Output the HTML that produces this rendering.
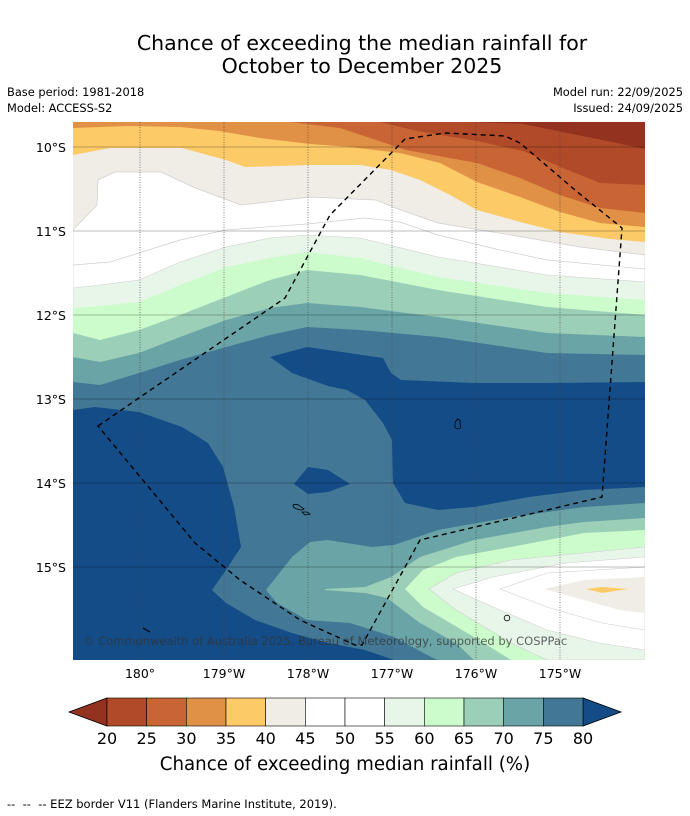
<!DOCTYPE html>
<html><head><meta charset="utf-8"><style>
body{margin:0;background:#fff;}
svg{display:block;font-family:"DejaVu Sans","Liberation Sans",sans-serif;}
</style></head><body>
<svg id="root" width="690" height="816" viewBox="0 0 690 816" xmlns="http://www.w3.org/2000/svg">
<rect width="690" height="816" fill="#fff"/>
<text x="362" y="50" font-size="20.5" text-anchor="middle" fill="#000">Chance of exceeding the median rainfall for</text>
<text x="362" y="73" font-size="20.5" text-anchor="middle" fill="#000">October to December 2025</text>
<text x="7" y="96" font-size="11.4">Base period: 1981-2018</text>
<text x="7" y="112" font-size="11.4">Model: ACCESS-S2</text>
<text x="683" y="96" font-size="11.4" text-anchor="end">Model run: 22/09/2025</text>
<text x="683" y="112" font-size="11.4" text-anchor="end">Issued: 24/09/2025</text>
<defs><clipPath id="mc"><rect x="73" y="122" width="572" height="538"/></clipPath></defs>
<g clip-path="url(#mc)">
<rect x="73" y="100" width="572" height="560" fill="#93321e"/>
<polygon fill="#b14a28" points="73,100 460,100 470,122 523,124 557,131 607,141 645,149 645,660 73,660"/>
<polygon fill="#c96534" points="73,100 375,110 380,122 417,131 477,141 523,151 563,168 600,183 645,185 645,660 73,660"/>
<polygon fill="#e09145" points="73,100 285,110 290,122 340,128 406,150 477,163 520,178 560,195 600,208 645,213 645,660 73,660"/>
<polygon fill="#fdca68" points="73,128 128,126 180,127 219,131 260,138 310,144 350,147 400,153 440,163 477,182 520,197 560,212 600,223 645,227 645,660 73,660"/>
<polygon fill="#f0ece6" points="73,155 110,148 182,148 226,160 245,167 310,165 360,165 391,170 420,180 450,195 477,210 520,222 560,232 610,239 645,242 645,660 73,660"/>
<polygon fill="#fff" stroke="#cfcfcf" stroke-width="0.7" points="73,230 97,205 98,180 115,172 161,172 193,187 241,205 310,197 376,200 401,210 438,223 511,235 580,247 645,255 645,660 73,660"/>
<polyline fill="none" stroke="#cfcfcf" stroke-width="0.7" points="73,265 110,262 139,253 180,240 226,230 307,224 365,218 400,222 438,235 500,250 547,260 645,269"/>
<polygon fill="#e8f5e9" stroke="#cfcfcf" stroke-width="0.6" points="73,288 100,285 139,280 180,262 226,247 270,238 307,235 360,238 438,257 547,275 645,282 645,660 73,660"/>
<polygon fill="#ccfccc" points="73,308 100,306 139,302 180,285 226,267 270,258 307,252 360,258 438,277 547,293 645,300 645,660 73,660"/>
<polygon fill="#9ccfb8" points="73,333 100,340 139,330 180,315 226,297 270,280 307,270 360,275 438,290 547,307 645,315 645,660 73,660"/>
<polygon fill="#6aa4a6" points="73,357 100,362 139,353 180,337 226,320 270,308 307,303 360,307 438,317 547,333 645,337 645,660 73,660"/>
<polygon fill="#427895" points="73,382 100,385 139,373 180,360 226,347 270,335 307,327 360,330 438,337 547,353 645,355 645,660 73,660"/>
<polygon fill="#134c87" points="270,357 307,347 328,350 383,358 391,373 401,380 474,383 547,383 645,382 645,487 584,490 529,497 474,507 438,510 405,503 393,483 392,440 383,423 365,400 347,390 328,386 292,373"/>
<polygon fill="#134c87" points="73,410 95,407 139,412 182,427 208,443 223,467 234,507 241,547 226,570 212,590 226,603 255,620 292,633 328,643 365,650 394,660 73,660"/>
<polygon fill="#134c87" points="294,484 308,467 328,470 350,484 328,492 308,494"/>
<polygon fill="#6aa4a6" points="266,590 292,557 310,542 328,540 372,547 394,545 438,530 511,517 584,507 645,503 645,660 438,660 431,657 394,637 350,623 307,620 277,603"/>
<polygon fill="#9ccfb8" points="325,589 365,587 391,577 420,557 474,540 547,527 584,522 645,518 645,660 474,660 456,643 420,623 387,598 365,593 325,590"/>
<polygon fill="#ccfccc" points="405,589 423,570 456,557 511,547 584,533 645,530 645,660 511,660 474,637 423,607"/>
<polygon fill="#e8f5e9" stroke="#cfcfcf" stroke-width="0.6" points="429,589 456,573 511,560 645,547 645,660 547,660 511,643 456,610"/>
<polygon fill="#fff" stroke="#cfcfcf" stroke-width="0.6" points="453,589 493,577 566,563 645,557 645,650 599,643 547,630 493,607"/>
<polyline fill="none" stroke="#cfcfcf" stroke-width="0.6" points="645,567 547,573 500,589 547,607 602,623 645,630"/>
<polygon fill="#f0ece6" points="544,589 584,580 645,577 645,613 620,610 584,600"/>
<polygon fill="#fdca68" points="586,589 602,587 628,589 602,593"/>
<g stroke="#444" stroke-width="0.8" stroke-dasharray="1,1.5" opacity="0.8">
<line x1="140" y1="122" x2="140" y2="660"/><line x1="224" y1="122" x2="224" y2="660"/><line x1="308" y1="122" x2="308" y2="660"/><line x1="392" y1="122" x2="392" y2="660"/><line x1="476" y1="122" x2="476" y2="660"/><line x1="560" y1="122" x2="560" y2="660"/>
</g>
<g stroke="#000" stroke-width="1" opacity="0.25">
<line x1="73" y1="147" x2="645" y2="147"/><line x1="73" y1="231" x2="645" y2="231"/><line x1="73" y1="315" x2="645" y2="315"/><line x1="73" y1="399" x2="645" y2="399"/><line x1="73" y1="483" x2="645" y2="483"/><line x1="73" y1="567" x2="645" y2="567"/>
</g>
<g fill="none" stroke="#000" stroke-width="0.8">
<path d="M458,419 q3,1 2,5 q2,4 -2,5 q-4,-1 -3,-4 q0,-4 3,-6z"/>
<path d="M293,505 q4,-2 8,2 l3,2 q-3,2 -7,0 q-4,-1 -4,-4z"/>
<path d="M302,512 l5,0 l3,2 l-5,1z"/>
<circle cx="507" cy="618" r="2.8"/>
<line x1="143" y1="628" x2="150" y2="632" stroke-width="1.2"/>
</g>
<polygon fill="none" stroke="#000" stroke-width="1.4" stroke-dasharray="5,4" points="98,426 285,298 330,215 405,139 445,133 505,136 520,143 575,190 622,228 602,497 420,540 362,645 355,645 300,620 240,580 195,543"/>
<text x="83" y="645" font-size="11.5" fill="#333" opacity="0.75">© Commonwealth of Australia 2025, Bureau of Meteorology, supported by COSPPac</text>
</g>
<g font-size="12.5" fill="#000" text-anchor="end">
<text x="66" y="152">10°S</text><text x="66" y="236">11°S</text><text x="66" y="320">12°S</text><text x="66" y="404">13°S</text><text x="66" y="488">14°S</text><text x="66" y="572">15°S</text>
</g>
<g font-size="12.5" fill="#000" text-anchor="middle">
<text x="140" y="678">180°</text><text x="224" y="678">179°W</text><text x="308" y="678">178°W</text><text x="392" y="678">177°W</text><text x="476" y="678">176°W</text><text x="560" y="678">175°W</text>
</g>
<g id="cbar"></g>
<text x="345" y="770" font-size="18.2" text-anchor="middle">Chance of exceeding median rainfall (%)</text>
<text x="7" y="808" font-size="11.5">-- &#160;-- &#160;-- EEZ border V11 (Flanders Marine Institute, 2019).</text>
</svg>
<script>
const levels=[20,25,30,35,40,45,50,55,60,65,70,75,80];
const binColors=["#b14a28","#c96534","#e09145","#fdca68","#f0ece6","#ffffff","#ffffff","#e8f5e9","#ccfccc","#9ccfb8","#6aa4a6","#427895"];
const underColor="#93321e", overColor="#134c87";
const NS="http://www.w3.org/2000/svg";
const g=document.getElementById('cbar');
const x0=107,x1=583,y0=698,y1=726;
const bx=v=>x0+(v-levels[0])/(levels[levels.length-1]-levels[0])*(x1-x0);
function mk(t,a){const e=document.createElementNS(NS,t);for(const k in a)e.setAttribute(k,a[k]);g.appendChild(e);return e;}
const lt=mk('polygon',{points:`${x0},${y0} ${x0},${y1} ${x0-38},${(y0+y1)/2}`,fill:underColor,stroke:'#000','stroke-width':0.8});


const rt=mk('polygon',{points:`${x1},${y0} ${x1},${y1} ${x1+38},${(y0+y1)/2}`,fill:overColor,stroke:'#000','stroke-width':0.8});


for(let i=0;i<binColors.length;i++){
  const r=mk('rect',{x:bx(levels[i]),y:y0,width:bx(levels[i+1])-bx(levels[i]),height:y1-y0,fill:binColors[i],stroke:'#000','stroke-width':0.6});
  
  
}
for(const v of levels){
  const t=mk('text',{x:bx(v),y:744,'font-size':16,'text-anchor':'middle',fill:'#000'});
  t.textContent=v;
  
  
}
</script>
</body></html>
